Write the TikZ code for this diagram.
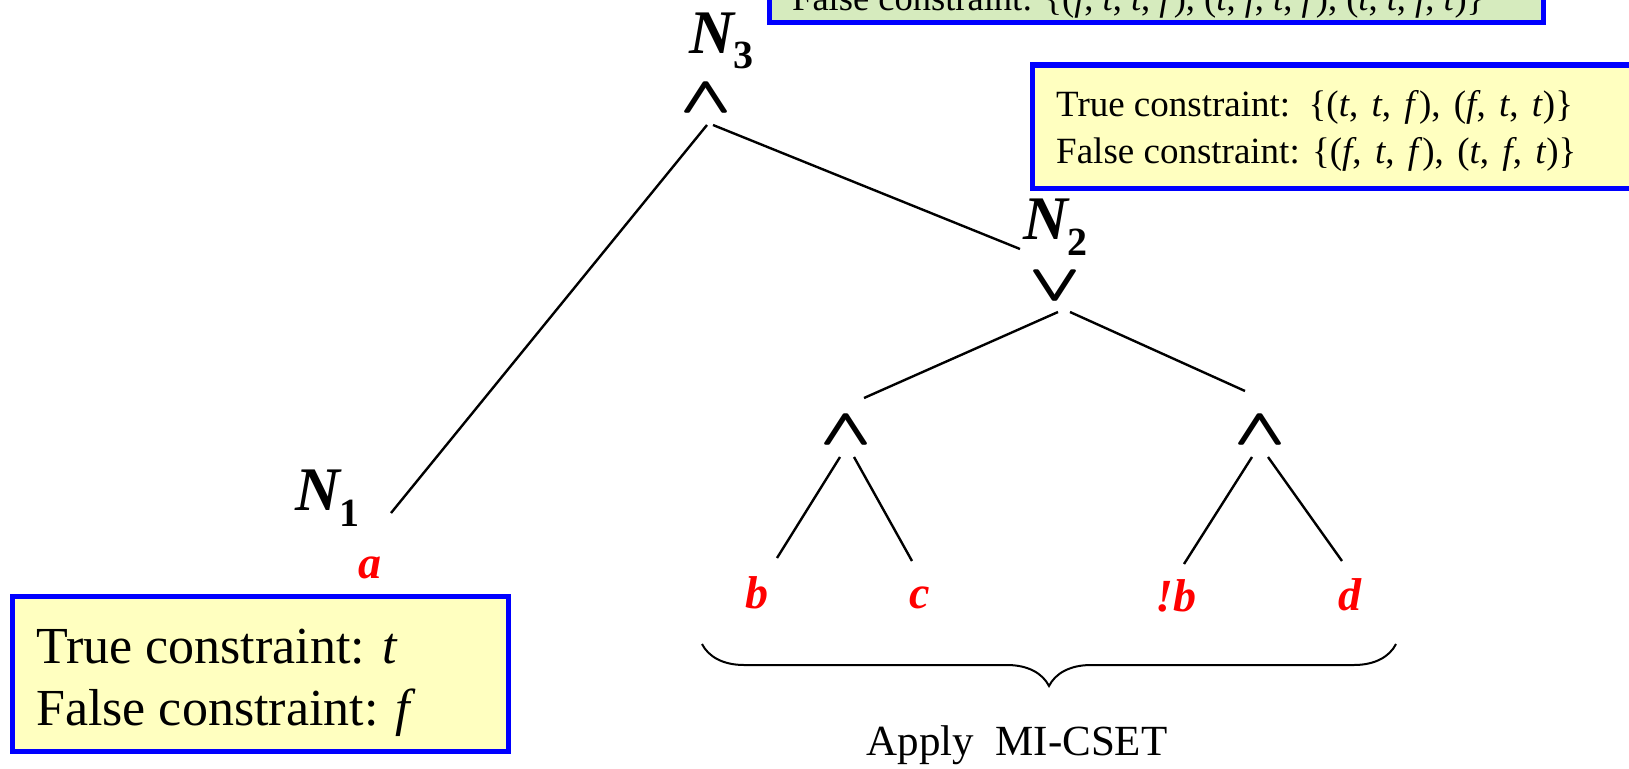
\documentclass[tikz,border=0pt]{standalone}
\usepackage{fontspec}
\usepackage{bm}
\setmainfont{Liberation Serif}
\usetikzlibrary{decorations.pathreplacing}
\definecolor{boxblue}{RGB}{0,0,255}
\definecolor{boxyellow}{RGB}{255,255,192}
\definecolor{boxgreen}{RGB}{214,235,190}
\definecolor{leafred}{RGB}{255,0,0}
\newcommand{\gateglyph}[1]{\scalebox{6.4}[5.1]{$\bm{#1}$}}
\newcommand{\gatesym}[1]{\makebox[0pt]{\smash{\hspace*{-1.4pt}\gateglyph{#1}}}\makebox[0pt]{\smash{\hspace*{1.4pt}\gateglyph{#1}}}}
\begin{document}
\begin{tikzpicture}[x=1pt,y=-1pt,
  edge/.style={line width=2.4pt},
  ybox/.style={draw=boxblue, line width=5pt, fill=boxyellow},
  gbox/.style={draw=boxblue, line width=5pt, fill=boxgreen},
  txt/.style={anchor=base west, inner sep=0pt},
  nlabel/.style={anchor=base west, inner sep=0pt, font=\fontsize{62}{62}\selectfont\bfseries\itshape},
  gate/.style={anchor=base, inner sep=0pt},
  leaf/.style={anchor=base, inner sep=0pt, text=leafred, font=\fontsize{46}{46}\selectfont\bfseries\itshape},
]
\useasboundingbox (0,0) rectangle (1629,768);

% top green box (cut off)
\draw[gbox] (769,-80) rectangle (1543,23);
\node[txt, font=\fontsize{36.5}{44}\selectfont] (gtext) at (792,11)
  {False constraint: \{(\textit{f}, \textit{t}, \textit{t}, \textit{f}), (\textit{t}, \textit{f}, \textit{t}, \textit{f}), (\textit{t}, \textit{t}, \textit{f}, \textit{t})\}};

% top right yellow box
\draw[ybox] (1032,65) rectangle (1660,188);
\node[txt, font=\fontsize{37}{44}\selectfont] (ytext1) at (1056,116)
  {True constraint:\ \ {\spaceskip=0.36em \{(\textit{t}, \textit{t}, \textit{f}), (\textit{f}, \textit{t}, \textit{t})\}}};
\node[txt, font=\fontsize{37}{44}\selectfont] (ytext2) at (1056,163)
  {False constraint: {\spaceskip=0.36em \{(\textit{f}, \textit{t}, \textit{f}), (\textit{t}, \textit{f}, \textit{t})\}}};

% bottom left yellow box
\draw[ybox] (12,596) rectangle (508,751);
\node[txt, font=\fontsize{52}{60}\selectfont] (ltext1) at (36,663) {True constraint: \textit{t}};
\node[txt, font=\fontsize{52}{60}\selectfont] (ltext2) at (36,725) {False constraint: \textit{f}};

% node labels
\node[nlabel] (n3) at (689,53) {N\raisebox{-16pt}{\fontsize{40}{40}\selectfont\upshape 3}};
\node[nlabel] (n2) at (1023,239) {N\raisebox{-16pt}{\fontsize{40}{40}\selectfont\upshape 2}};
\node[nlabel] (n1) at (295,510) {N\raisebox{-16pt}{\fontsize{40}{40}\selectfont\upshape 1}};

% gates
\node[gate] (g3) at (706,112) {\gatesym{\wedge}};
\node[gate] (g2) at (1055,300) {\gatesym{\vee}};
\node[gate] (gl) at (846,444) {\gatesym{\wedge}};
\node[gate] (gr) at (1260,444) {\gatesym{\wedge}};

% leaves
\node[leaf] (a) at (370,578) {a};
\node[leaf] (b) at (757,608) {b};
\node[leaf] (c) at (920,608) {c};
\node[leaf] (nb) at (1176,611) {!b};
\node[leaf] (d) at (1350,610) {d};

% connector end points
\coordinate (g3a) at (707,125);
\coordinate (g3b) at (713,125);
\coordinate (n1e) at (391,513);
\coordinate (n2e) at (1020,249);
\coordinate (g2a) at (1058,312);
\coordinate (g2b) at (1070,312);
\coordinate (gle) at (864,398);
\coordinate (gre) at (1245,391);
\coordinate (gla) at (840,457);
\coordinate (glb) at (854,457);
\coordinate (be) at (777,558);
\coordinate (ce) at (912,561);
\coordinate (gra) at (1252,457);
\coordinate (grb) at (1268,457);
\coordinate (nbe) at (1184,564);
\coordinate (de) at (1342,561);

\draw[edge] (g3a) -- (n1e);
\draw[edge] (g3b) -- (n2e);
\draw[edge] (g2a) -- (gle);
\draw[edge] (g2b) -- (gre);
\draw[edge] (gla) -- (be);
\draw[edge] (glb) -- (ce);
\draw[edge] (gra) -- (nbe);
\draw[edge] (grb) -- (de);

% brace
\coordinate (brl) at (702,644);
\coordinate (brr) at (1396,644);
\draw[line width=2pt, decorate, decoration={brace, mirror, amplitude=42pt}] (brl) -- (brr);
\node[anchor=base, inner sep=0pt, font=\fontsize{43}{43}\selectfont] (apply) at (1017,755) {Apply\ \ MI-CSET};
\end{tikzpicture}
\end{document}
